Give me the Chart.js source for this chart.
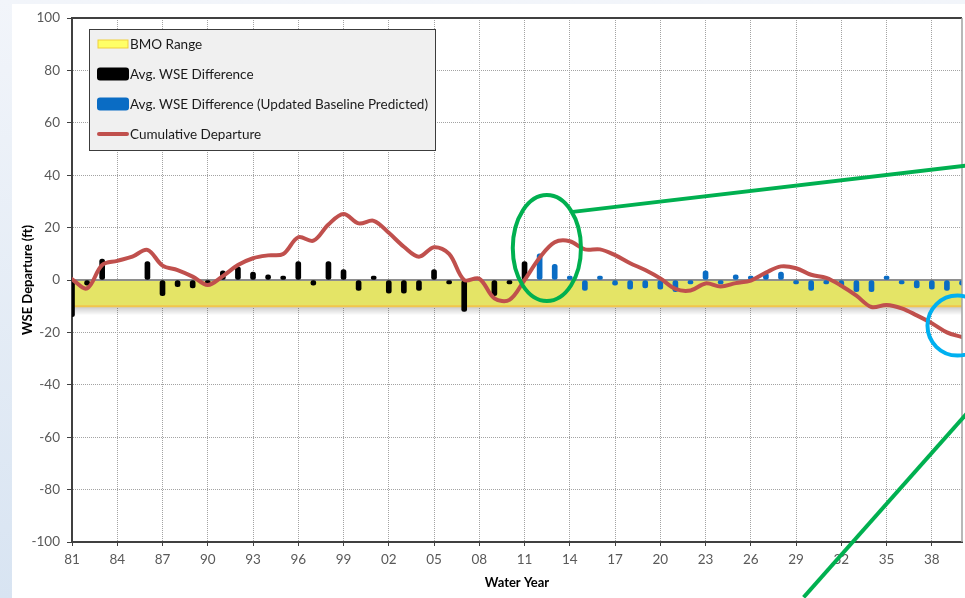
<!DOCTYPE html>
<html>
<head>
<meta charset="utf-8">
<title>WSE Departure by Water Year</title>
<script src="https://cdn.jsdelivr.net/npm/chart.js@4.4.1/dist/chart.umd.min.js"></script>
<style>
  html, body { margin: 0; padding: 0; }
  #wrap { position: relative; width: 965px; height: 598px; overflow: hidden;
          background: linear-gradient(180deg, #f2f5fa 0%, #d8e4f2 100%); }
  #panel { position: absolute; left: 12px; top: 4px; right: 0; bottom: 0; background: #ffffff; }
  #c { position: absolute; left: 0; top: 0; }
</style>
</head>
<body>
<div id="wrap"><div id="panel"></div><canvas id="c" width="965" height="598"></canvas></div>
<script>
// ---- data ----
const xMin = 1981;
const xMax = 2040;

// Historical average WSE difference (ft)
const histYears = [1981, 1982, 1983, 1984, 1985, 1986, 1987, 1988, 1989, 1990,
                   1991, 1992, 1993, 1994, 1995, 1996, 1997, 1998, 1999, 2000,
                   2001, 2002, 2003, 2004, 2005, 2006, 2007, 2008, 2009, 2010, 2011];
const histDiff  = [-14, -2, 8, null, null, 7, -6, -2.5, -3, -1,
                   3.5, 5, 3, 2, 1.3, 7, -2, 7, 4, -4,
                   1, -5, -5, -4, 4, -0.8, -12, null, -6, -1, 7];

// Predicted average WSE difference (updated baseline, ft)
const projYears = [2012, 2013, 2014, 2015, 2016, 2017, 2018, 2019, 2020, 2021,
                   2022, 2023, 2024, 2025, 2026, 2027, 2028, 2029, 2030, 2031,
                   2032, 2033, 2034, 2035, 2036, 2037, 2038, 2039, 2040];
const projDiff  = [10, 6, 1.5, -4, 0.5, -2, -3.5, -3, -3.5, -4.5,
                   -1, 3.5, -1, 2, 1.5, 2.5, 3, -0.5, -4, -1.5,
                   -2.5, -4.5, -4.5, 1.5, -0.5, -3, -3.5, -4, -2];

// Cumulative departure (ft)
const cumYears = [1981, 1982, 1983, 1984, 1985, 1986, 1987, 1988, 1989, 1990,
                  1991, 1992, 1993, 1994, 1995, 1996, 1997, 1998, 1999, 2000,
                  2001, 2002, 2003, 2004, 2005, 2006, 2007, 2008, 2009, 2010,
                  2011, 2012, 2013, 2014, 2015, 2016, 2017, 2018, 2019, 2020,
                  2021, 2022, 2023, 2024, 2025, 2026, 2027, 2028, 2029, 2030,
                  2031, 2032, 2033, 2034, 2035, 2036, 2037, 2038, 2039, 2040];
const cumDeparture = [0.3, -3.2, 5.7, 7.3, 8.9, 11.5, 5.5, 3.8, 1.3, -1.9,
                      1.5, 5.7, 8.3, 9.4, 9.9, 16.3, 15, 21.2, 25.2, 21.6,
                      22.6, 18, 12.7, 8.9, 12.5, 10, 0, 0.5, -7, -7.6,
                      0, 8.5, 14.4, 14.8, 11.7, 11.7, 9.5, 6.4, 3.8, 0.6,
                      -3.4, -4, -1.3, -2.5, -1.2, -0.2, 2.8, 5.2, 4.5, 2,
                      0.8, -2.2, -6, -10.3, -9.5, -10.8, -13.5, -16.5, -20, -21.8];

// BMO range (ft)
const bmoUpper = 0;
const bmoLower = -10;

// Axis ticks
const xTickYears = [1981, 1984, 1987, 1990, 1993, 1996, 1999, 2002, 2005, 2008,
                    2011, 2014, 2017, 2020, 2023, 2026, 2029, 2032, 2035, 2038];
const yTickValues = [-100, -80, -60, -40, -20, 0, 20, 40, 60, 80, 100];

// ---- callout shapes (in axis units) ----
const callouts = {
  focus:  { year: 2012.48, ft: 12.2, halfYears: 2.26, halfFt: 20.2 },
  upper:  { from: [2014.2, 26], to: [2040.3, 43.7] },
  lower:  { from: [2029.5, -121.1], to: [2040.3, -51.1] },
  endPt:  { year: 2039.7, ft: -17.4, radius: 30 }
};

const pts = (xs, ys) => xs.map((x, i) => ({ x: x, y: ys[i] }));

Chart.defaults.font.family = 'Lato, "Open Sans", sans-serif';
Chart.defaults.font.size = 13;
Chart.defaults.color = '#595959';

// shadow under the BMO band and the zero reference line
const bandDecor = {
  id: 'bandDecor',
  beforeDatasetsDraw(chart) {
    const { ctx, chartArea: a, scales: { y } } = chart;
    const yb = y.getPixelForValue(bmoLower);
    const g = ctx.createLinearGradient(0, yb, 0, yb + 9);
    g.addColorStop(0, 'rgba(0,0,0,0.22)');
    g.addColorStop(1, 'rgba(0,0,0,0)');
    ctx.save();
    ctx.fillStyle = g;
    ctx.fillRect(a.left, yb, a.right - a.left, 9);
    ctx.restore();
  },
  afterDatasetDraw(chart, args) {
    if (args.index !== 0) return;
    const { ctx, chartArea: a, scales: { y } } = chart;
    const y0 = y.getPixelForValue(0);
    ctx.save();
    ctx.strokeStyle = '#8e8e8e';
    ctx.lineWidth = 2;
    ctx.beginPath();
    ctx.moveTo(a.left, y0);
    ctx.lineTo(a.right, y0);
    ctx.stroke();
    ctx.restore();
  },
  afterDraw(chart) {
    // top and right frame of the plot area
    const { ctx, chartArea: a } = chart;
    ctx.save();
    ctx.strokeStyle = '#404040';
    ctx.lineWidth = 2;
    ctx.beginPath();
    ctx.moveTo(a.left, a.top);
    ctx.lineTo(a.right, a.top);
    ctx.stroke();
    ctx.strokeStyle = '#a0a0a0';
    ctx.lineWidth = 1.5;
    ctx.beginPath();
    ctx.moveTo(a.right, a.top);
    ctx.lineTo(a.right, a.bottom);
    ctx.stroke();
    ctx.restore();
  }
};

// legend box inside the plot area
const insideLegend = {
  id: 'insideLegend',
  afterDraw(chart) {
    const { ctx, chartArea: a } = chart;
    const ds = chart.data.datasets;
    const x0 = Math.round(a.left + 17) + 0.5, y0 = Math.round(a.top + 11) + 0.5;
    const w = 346, h = 121;
    ctx.save();
    ctx.fillStyle = '#f0f0f0';
    ctx.fillRect(x0, y0, w, h);
    ctx.strokeStyle = '#3c3c3c';
    ctx.lineWidth = 1;
    ctx.strokeRect(x0, y0, w, h);
    const sx = x0 + 7.5, sw = 32;
    const rr = (x, y, ww, hh, r) => {
      ctx.beginPath();
      ctx.roundRect(x, y, ww, hh, r);
      ctx.fill();
    };
    [0, 1, 2, 3].forEach((di, i) => {
      const d = ds[di];
      const cy = y0 + 14.5 + i * 30;
      if (di === 0) {
        ctx.fillStyle = '#ffff66';
        ctx.fillRect(sx + 1, cy - 4, sw - 2, 8);
        ctx.strokeStyle = '#f0cf3c';
        ctx.lineWidth = 1;
        ctx.strokeRect(sx + 1, cy - 4, sw - 2, 8);
      } else if (di === 3) {
        ctx.strokeStyle = d.borderColor;
        ctx.lineWidth = 4;
        ctx.lineCap = 'round';
        ctx.beginPath();
        ctx.moveTo(sx + 2, cy);
        ctx.lineTo(sx + sw - 2, cy);
        ctx.stroke();
      } else {
        ctx.fillStyle = d.backgroundColor;
        rr(sx, cy - 6.5, sw, 13, 3);
      }
      ctx.fillStyle = '#1a1a1a';
      ctx.font = '13.5px Lato';
      ctx.textBaseline = 'middle';
      ctx.textAlign = 'left';
      ctx.fillText(d.label, sx + sw + 1, cy + 0.5);
    });
    ctx.restore();
  }
};

// callout ellipse, leader lines and end-point circle
const calloutMarks = {
  id: 'calloutMarks',
  afterDraw(chart) {
    const { ctx, scales: { x, y } } = chart;
    const px = v => x.getPixelForValue(v), py = v => y.getPixelForValue(v);
    ctx.save();
    ctx.lineWidth = 4;
    ctx.strokeStyle = '#00b050';
    const f = callouts.focus;
    const cx = px(f.year), cy = py(f.ft);
    ctx.beginPath();
    ctx.ellipse(cx, cy, px(f.year + f.halfYears) - cx, cy - py(f.ft + f.halfFt), 0, 0, Math.PI * 2);
    ctx.stroke();
    [callouts.upper, callouts.lower].forEach(l => {
      ctx.beginPath();
      ctx.moveTo(px(l.from[0]), py(l.from[1]));
      ctx.lineTo(px(l.to[0]), py(l.to[1]));
      ctx.stroke();
    });
    const e = callouts.endPt;
    ctx.strokeStyle = '#00b0f0';
    ctx.beginPath();
    ctx.arc(px(e.year), py(e.ft), e.radius, 0, Math.PI * 2);
    ctx.stroke();
    ctx.restore();
  }
};

new Chart(document.getElementById('c'), {
  type: 'bar',
  data: {
    datasets: [
      {
        type: 'line',
        label: 'BMO Range',
        data: [{ x: xMin, y: bmoLower }, { x: xMax, y: bmoLower }],
        fill: { value: bmoUpper },
        backgroundColor: '#e4e466',
        borderColor: '#f1c54c',
        borderWidth: 2,
        pointRadius: 0,
        tension: 0,
        order: 10
      },
      {
        type: 'bar',
        label: 'Avg. WSE Difference',
        data: pts(histYears, histDiff),
        backgroundColor: '#000000',
        barThickness: 5,
        borderRadius: 2.5,
        borderSkipped: false,
        minBarLength: 4,
        grouped: false,
        clip: 0,
        order: 5
      },
      {
        type: 'bar',
        label: 'Avg. WSE Difference (Updated Baseline Predicted)',
        data: pts(projYears, projDiff),
        backgroundColor: '#0a6cc4',
        barThickness: 5,
        borderRadius: 2.5,
        borderSkipped: false,
        minBarLength: 4,
        grouped: false,
        clip: 0,
        order: 5
      },
      {
        type: 'line',
        label: 'Cumulative Departure',
        data: pts(cumYears, cumDeparture),
        borderColor: '#c0504d',
        borderWidth: 4,
        pointRadius: 0,
        tension: 0.35,
        fill: false,
        borderCapStyle: 'round',
        order: 1
      }
    ]
  },
  options: {
    responsive: false,
    animation: false,
    events: [],
    layout: { padding: { left: 0, top: 18, right: 3, bottom: 0 } },
    plugins: { legend: { display: false }, tooltip: { enabled: false } },
    scales: {
      x: {
        type: 'linear',
        offset: false,
        min: xMin,
        max: xMax,
        afterBuildTicks: s => { s.ticks = xTickYears.map(v => ({ value: v })); },
        afterFit: s => { s.height = 56; },
        ticks: {
          autoSkip: false,
          maxRotation: 0,
          padding: 6,
          color: '#595959',
          font: { size: 13.5 },
          callback: v => String(v).slice(2)
        },
        grid: {
          offset: false,
          color: '#a3a3a3',
          lineWidth: 1,
          tickLength: 4,
          tickColor: '#404040',
          tickWidth: 1
        },
        border: { display: true, color: '#404040', width: 2, dash: [1, 1] },
        title: {
          display: true,
          text: 'Water Year',
          color: '#000000',
          font: { size: 13, weight: 'bold' },
          padding: { top: 0, bottom: 7 }
        }
      },
      y: {
        min: -100,
        max: 100,
        afterBuildTicks: s => { s.ticks = yTickValues.map(v => ({ value: v })); },
        afterFit: s => { s.width = 72; },
        ticks: { padding: 7, color: '#595959', font: { size: 13.5 } },
        grid: {
          color: '#a3a3a3',
          lineWidth: 1,
          tickLength: 5,
          tickColor: '#404040',
          tickWidth: 1
        },
        border: { display: true, color: '#404040', width: 2, dash: [1, 1] },
        title: {
          display: true,
          text: 'WSE Departure (ft)',
          color: '#000000',
          font: { size: 13, weight: 'bold' },
          padding: { top: 20, bottom: 0 }
        }
      }
    }
  },
  plugins: [bandDecor, insideLegend, calloutMarks]
});
</script>
</body>
</html>
